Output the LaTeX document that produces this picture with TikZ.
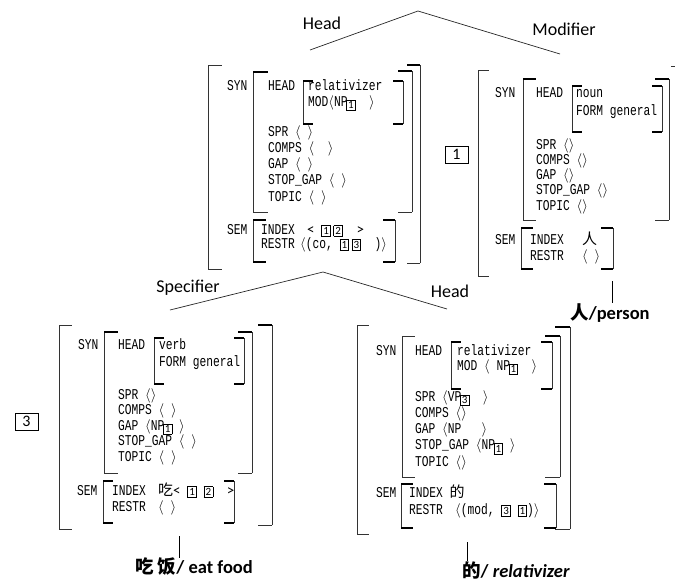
\documentclass[tikz,border=0pt]{standalone}
\usepackage{fontspec}
\setmainfont{Carlito}
\newfontfamily\avmfont[FakeStretch=0.75]{Liberation Mono}
\newfontfamily\cjk{Noto Sans CJK SC}
\usetikzlibrary{positioning}
\newcommand{\avl}{$\langle$}
\newcommand{\avr}{$\rangle$}
\newcommand{\tg}[1]{{\setlength{\fboxsep}{1.2pt}\setlength{\fboxrule}{0.8pt}\fbox{\fontsize{11}{11}\selectfont\rmfamily #1}}}
\newcommand{\sub}[1]{\kern-1.5pt\raisebox{-2.5pt}{\tg{#1}}}
% bracket: x, top, bottom, tick length (+ left, - right), top tick, bottom tick
\newcommand{\avmbrk}[6]{%
  \draw[bline] (#1,#2) -- (#1,#3);
  \draw[#5] (#1,#2) -- ++(#4,0);
  \draw[#6] (#1,#3) -- ++(#4,0);}
\tikzset{
  lbl/.style={font=\fontsize{18}{20}\selectfont,inner sep=0pt},
  word/.style={font=\fontsize{18.5}{20}\selectfont\bfseries,inner sep=0pt},
  feat/.style={font=\fontsize{15}{16}\avmfont,anchor=mid west,inner sep=0pt},
  tagbox/.style={draw,line width=0.8pt,minimum width=23pt,minimum height=17pt,inner sep=0pt,font=\fontsize{16}{18}\selectfont},
  branch/.style={line width=0.7pt,draw=black!85},
  stem/.style={line width=0.8pt},
  bline/.style={line width=0.7pt,draw=black!80},
  tk/.style={line width=0.7pt,draw=black!80},
  btk/.style={line width=2.6pt},
}
\begin{document}
\begin{tikzpicture}[x=1pt,y=-1pt]
  \useasboundingbox (0,0) rectangle (675,582);
  % tree
  \coordinate (root) at (418,11);
  \coordinate (hl-top) at (310,50);
  \coordinate (mr-top) at (560,54);
  \coordinate (hl-bot) at (323,272);
  \coordinate (sp-top) at (170,310);
  \coordinate (hr-top) at (447,309);
  \draw[branch] (hl-top) -- (root) -- (mr-top);
  \draw[branch] (sp-top) -- (hl-bot) -- (hr-top);
  \node[lbl] (l-head1) at (322,23) {Head};
  \node[lbl] (l-mod) at (564,29) {Modifier};
  \node[lbl] (l-spec) at (188,288) {Specifier};
  \node[lbl] (l-head2) at (450,291) {Head};

  % head (top left)
  \avmbrk{208}{65}{269}{14}{tk}{tk}
  \avmbrk{420}{65}{263}{-13}{btk}{tk}
  \avmbrk{253}{72}{212}{15}{btk}{tk}
  \avmbrk{412}{71}{212}{-14}{btk}{tk}
  \avmbrk{303}{81}{124}{10}{btk}{btk}
  \avmbrk{403}{81}{124}{-10}{btk}{btk}
  \avmbrk{253}{220}{262}{13}{btk}{btk}
  \avmbrk{395}{220}{262}{-12}{btk}{btk}
  \node[feat] (hl-syn) at (227,88) {SYN};
  \node[feat] (hl-head) at (268,88) {HEAD};
  \node[feat] (hl-type) at (308,88) {relativizer};
  \node[feat] (hl-mod) at (308,104) {MOD\avl NP\sub1~~\avr};
  \foreach \f [count=\i from 0] in {SPR \avl~\avr,COMPS \avl~~\avr,GAP \avl~\avr,STOP\_GAP \avl~\avr,TOPIC \avl~\avr}
    \node[feat] (hl-f\i) at (268,134+16.2*\i) {\f};
  \node[feat] (hl-sem) at (227,232) {SEM};
  \node[feat] (hl-index) at (261,232) {INDEX};
  \node[feat] (hl-indexv) at (307,232) {{\rmfamily<}~\tg1\,\tg2~~{\rmfamily>}};
  \node[feat] (hl-restr) at (261,246) {RESTR};
  \node[feat] (hl-restrv) at (300,246) {\avl(co,~\tg1\,\tg3~~)\avr};

  % modifier (top right)
  \node[tagbox] (tag1) at (456.5,154.5) {1};
  \avmbrk{478}{70}{276}{11}{tk}{tk}
  \draw[tk] (671,66) -- (675,66);
  \avmbrk{523}{79}{220}{13}{btk}{tk}
  \avmbrk{669}{79}{220}{-14}{btk}{tk}
  \avmbrk{572}{86}{132}{10}{btk}{btk}
  \avmbrk{662}{86}{132}{-10}{btk}{btk}
  \avmbrk{521}{228}{269}{12}{btk}{btk}
  \avmbrk{613}{228}{269}{-12}{btk}{btk}
  \node[feat] (mr-syn) at (495,95) {SYN};
  \node[feat] (mr-head) at (536,95) {HEAD};
  \node[feat] (mr-type) at (576,95) {noun};
  \node[feat] (mr-form) at (576,113) {FORM general};
  \foreach \f [count=\i from 0] in {SPR \avl\avr,COMPS \avl\avr,GAP \avl\avr,STOP\_GAP \avl\avr,TOPIC \avl\avr}
    \node[feat] (mr-f\i) at (536,147+15.2*\i) {\f};
  \node[feat] (mr-sem) at (495,242) {SEM};
  \node[feat] (mr-index) at (530,242) {INDEX};
  \node[feat] (mr-indexv) at (582,242) {\cjk 人};
  \node[feat] (mr-restr) at (530,258) {RESTR};
  \node[feat] (mr-restrv) at (582,258) {\avl~\avr};
  \node[word] (w-ren) at (610,313) {{\cjk 人}/person};
  \coordinate (mr-foot) at (612,281);
  \draw[stem] (mr-foot) -- (mr-foot |- w-ren.north);

  % specifier (bottom left)
  \node[tagbox] (tag3) at (26.5,421.5) {3};
  \avmbrk{59}{325}{529}{13}{tk}{tk}
  \avmbrk{272}{325}{525}{-14}{btk}{tk}
  \avmbrk{104}{332}{473}{14}{btk}{tk}
  \avmbrk{252}{332}{473}{-14}{btk}{tk}
  \avmbrk{154}{338}{384}{10}{btk}{btk}
  \avmbrk{244}{338}{384}{-10}{btk}{btk}
  \avmbrk{103}{481}{523}{10}{btk}{btk}
  \avmbrk{234}{481}{523}{-10}{btk}{btk}
  \node[feat] (sp-syn) at (78,347) {SYN};
  \node[feat] (sp-head) at (118,347) {HEAD};
  \node[feat] (sp-type) at (159,347) {verb};
  \node[feat] (sp-form) at (159,364) {FORM general};
  \foreach \f [count=\i from 0] in {SPR \avl\avr,COMPS \avl~\avr,GAP \avl NP\sub1~\avr,STOP\_GAP \avl~\avr,TOPIC \avl~\avr}
    \node[feat] (sp-f\i) at (118,397+15.5*\i) {\f};
  \node[feat] (sp-sem) at (77,493) {SEM};
  \node[feat] (sp-index) at (112,493) {INDEX};
  \node[feat] (sp-indexv) at (158,493) {{\cjk 吃}{\rmfamily<}~\tg1~\tg2~~{\rmfamily>}};
  \node[feat] (sp-restr) at (112,509) {RESTR};
  \node[feat] (sp-restrv) at (158,509) {\avl~\avr};
  \node[word] (w-chi) at (194,567) {{\cjk 吃~饭}/ eat food};
  \coordinate (sp-foot) at (179,536);
  \draw[stem] (sp-foot) -- (sp-foot |- w-chi.north);

  % head (bottom right)
  \avmbrk{357}{325}{534}{12}{tk}{tk}
  \avmbrk{570}{327}{529}{-15}{btk}{tk}
  \avmbrk{402}{336}{477}{13}{tk}{tk}
  \avmbrk{560}{336}{477}{-15}{btk}{tk}
  \avmbrk{451}{342}{389}{10}{btk}{btk}
  \avmbrk{552}{342}{389}{-11}{btk}{btk}
  \avmbrk{401}{484}{528}{12}{btk}{btk}
  \avmbrk{556}{484}{528}{-12}{btk}{btk}
  \node[feat] (hr-syn) at (376,353) {SYN};
  \node[feat] (hr-head) at (415,353) {HEAD};
  \node[feat] (hr-type) at (457,353) {relativizer};
  \node[feat] (hr-mod) at (457,368) {MOD \avl~NP\sub1~~\avr};
  \foreach \f [count=\i from 0] in {SPR \avl VP\sub3~~\avr,COMPS \avl\avr,GAP \avl NP~~~\avr,STOP\_GAP \avl NP\sub1~\avr,TOPIC \avl\avr}
    \node[feat] (hr-f\i) at (415,399+16.2*\i) {\f};
  \node[feat] (hr-sem) at (376,495) {SEM};
  \node[feat] (hr-index) at (409,495) {INDEX~{\cjk 的}};
  \node[feat] (hr-restr) at (409,512) {RESTR};
  \node[feat] (hr-restrv) at (455,512) {\avl(mod,~\tg3~\tg1)\avr};
  \node[word] (w-de) at (516,570) {{\cjk 的}/ \textit{relativizer}};
  \coordinate (hr-foot) at (467,542);
  \draw[stem] (hr-foot) -- (hr-foot |- w-de.north);
\end{tikzpicture}
\end{document}
